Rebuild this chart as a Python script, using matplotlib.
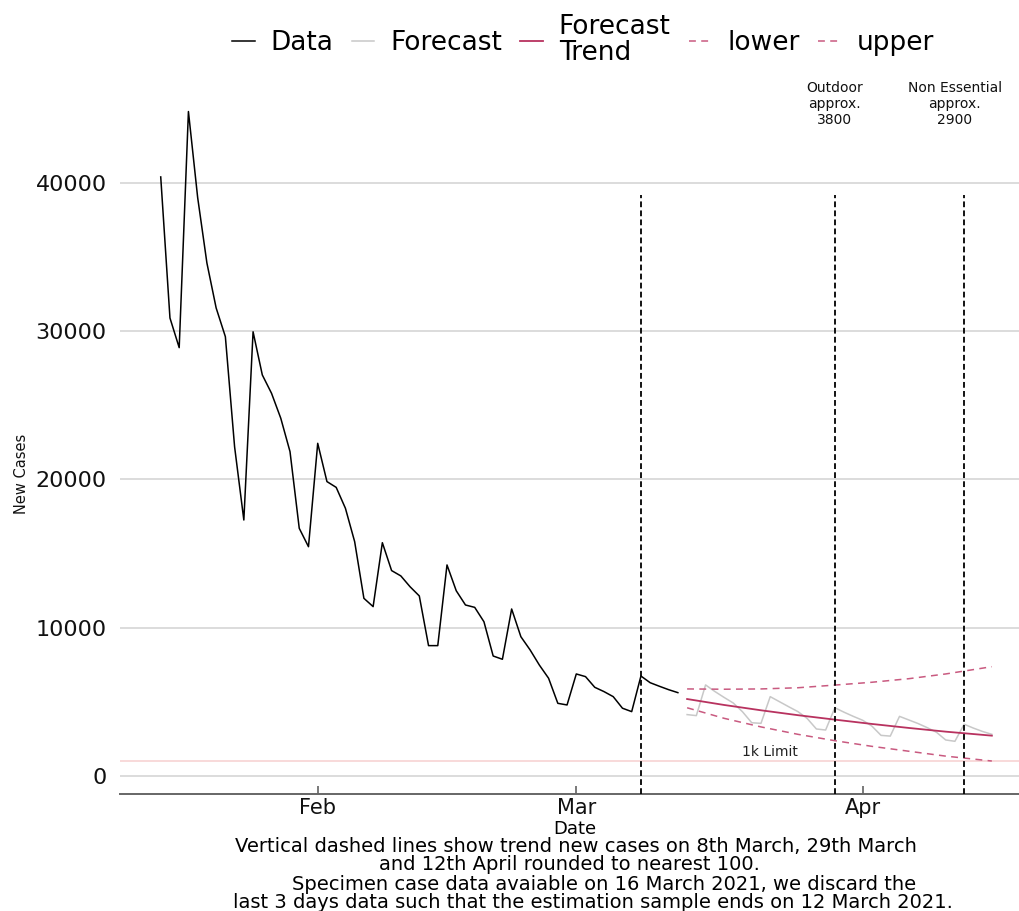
import matplotlib
matplotlib.use("Agg")
import matplotlib.pyplot as plt
import matplotlib.dates as mdates
import pandas as pd

plt.rcParams['font.family'] = ['DejaVu Sans']

# ---------------- data ----------------
data_start = "2021-01-15"
data_values = [40390, 30880, 28880, 44800, 39000, 34590, 31560, 29620, 22190, 17260,
               29950, 27040, 25800, 24120, 21870, 16700, 15460,
               22430, 19850, 19460, 18050, 15800, 11980, 11420, 15730, 13850, 13490,
               12760, 12140, 8790, 8790, 14230, 12490, 11530, 11370, 10400, 8090,
               7870, 11260, 9390, 8500, 7480, 6590, 4900, 4790,
               6880, 6700, 5980, 5690, 5350, 4570, 4340, 6740, 6290, 6050, 5820, 5620]

forecast_start = "2021-03-13"
forecast_values = [4140, 4070, 6140, 5700, 5300, 4920, 4330, 3590, 3550,
                   5350, 5010, 4670, 4340, 3880, 3170, 3100,
                   4600, 4300, 4020, 3760, 3370, 2740, 2690,
                   4020, 3780, 3540, 3260, 2950, 2430, 2340,
                   3490, 3230, 3000, 2810]

band_dates = ["2021-03-13", "2021-03-17", "2021-03-21", "2021-03-25", "2021-03-29",
              "2021-04-02", "2021-04-06", "2021-04-10", "2021-04-15"]
trend_values = [5190, 4790, 4430, 4100, 3800, 3510, 3240, 2990, 2720]
lower_values = [4600, 3890, 3310, 2810, 2380, 2000, 1670, 1340, 1010]
upper_values = [5870, 5850, 5870, 5950, 6130, 6320, 6560, 6880, 7370]

vline_dates = ["2021-03-08", "2021-03-29", "2021-04-12"]
vline_top = 39200
limit_value = 1000
annot_dates = ["2021-03-29", "2021-04-11"]
annot_texts = ["Outdoor\napprox.\n3800", "Non Essential\napprox.\n2900"]
annot_y = 45300

xtick_dates = ["2021-02-01", "2021-03-01", "2021-04-01"]
xtick_labels = ["Feb", "Mar", "Apr"]
ytick_values = [0, 10000, 20000, 30000, 40000]

caption_lines = ["Vertical dashed lines show trend new cases on 8th March, 29th March",
                 "and 12th April rounded to nearest 100.",
                 "Specimen case data avaiable on 16 March 2021, we discard the",
                 "last 3 days data such that the estimation sample ends on 12 March 2021."]

# ---------------- figure ----------------
W, H = 1019, 911
fig = plt.figure(figsize=(W / 100, H / 100), dpi=100)
ax = fig.add_axes([120 / W, (H - 793.5) / H, (W - 120) / W, (793.5 - 70) / H])

d_data = pd.date_range(data_start, periods=len(data_values), freq="D")
d_fc = pd.date_range(forecast_start, periods=len(forecast_values), freq="D")
d_band = pd.to_datetime(band_dates)

feb1 = mdates.date2num(pd.Timestamp("2021-02-01"))
ax.set_xlim(feb1 - 21.41, feb1 + 75.94)
ax.set_ylim(-1180, 47600)

ax.set_axisbelow(True)
ax.yaxis.grid(True, color="#d2d2d2", lw=1.1)
ax.xaxis.grid(False)

ax.axhline(limit_value, color="#f6cfcf", lw=1.1, zorder=1)

ax.plot(d_data, data_values, color="black", lw=1.1, label="Data", zorder=3)
ax.plot(d_fc, forecast_values, color="#c8c8c8", lw=1.1, label="Forecast", zorder=3)
ax.plot(d_band, trend_values, color="#b8325f", lw=1.3, label="Forecast\nTrend", zorder=4)
ax.plot(d_band, lower_values, color="#c95a80", lw=1.1, ls=(0, (4.5, 3.5)), label="lower", zorder=4)
ax.plot(d_band, upper_values, color="#c95a80", lw=1.1, ls=(0, (4.5, 3.5)), label="upper", zorder=4)

ax.vlines(pd.to_datetime(vline_dates), -1180, vline_top, colors="black", lw=1.3,
          linestyles=(0, (3.2, 1.8)), zorder=5)

for d, t in zip(annot_dates, annot_texts):
    ax.text(pd.Timestamp(d), annot_y, t, ha="center", va="center", fontsize=10,
            linespacing=1.2, color="#111111")

ax.text(pd.Timestamp("2021-03-22"), 1640, "1k Limit", ha="center", va="center",
        fontsize=10, color="#222222")

for s in ["top", "right", "left"]:
    ax.spines[s].set_visible(False)
ax.spines["bottom"].set_color("#666666")
ax.spines["bottom"].set_linewidth(1.4)

ax.set_yticks(ytick_values)
ax.set_yticklabels([str(v) for v in ytick_values])
ax.tick_params(axis="y", length=0, pad=9.5, labelsize=16, labelcolor="#111111")
ax.set_xticks(pd.to_datetime(xtick_dates))
ax.set_xticklabels(xtick_labels)
ax.tick_params(axis="x", direction="in", length=6, width=1.1, color="#555555",
               labelsize=15, pad=3.5, labelcolor="#111111")

fig.text(22 / W, 1 - 474 / H, "New Cases", rotation=90, ha="center", va="center",
         fontsize=10.5, color="#111111")

fig.text(575 / W, 1 - 834 / H, "Date", ha="center", va="baseline", fontsize=13)
cap_x = [576, 569, 604, 593]
cap_base = [852, 870.5, 889.5, 908]
for t, x, y in zip(caption_lines, cap_x, cap_base):
    fig.text(x / W, 1 - y / H, t, ha="center", va="baseline", fontsize=14)

handles, labels = ax.get_legend_handles_labels()
leg = fig.legend(handles, labels, loc="center", bbox_to_anchor=(583 / W, 1 - 40 / H), ncol=5,
                 frameon=False, fontsize=19, handlelength=0.85, handletextpad=0.6,
                 columnspacing=0.7)
for t in leg.get_texts():
    t.set_linespacing(0.95)

fig.savefig("out.png", dpi=100)
